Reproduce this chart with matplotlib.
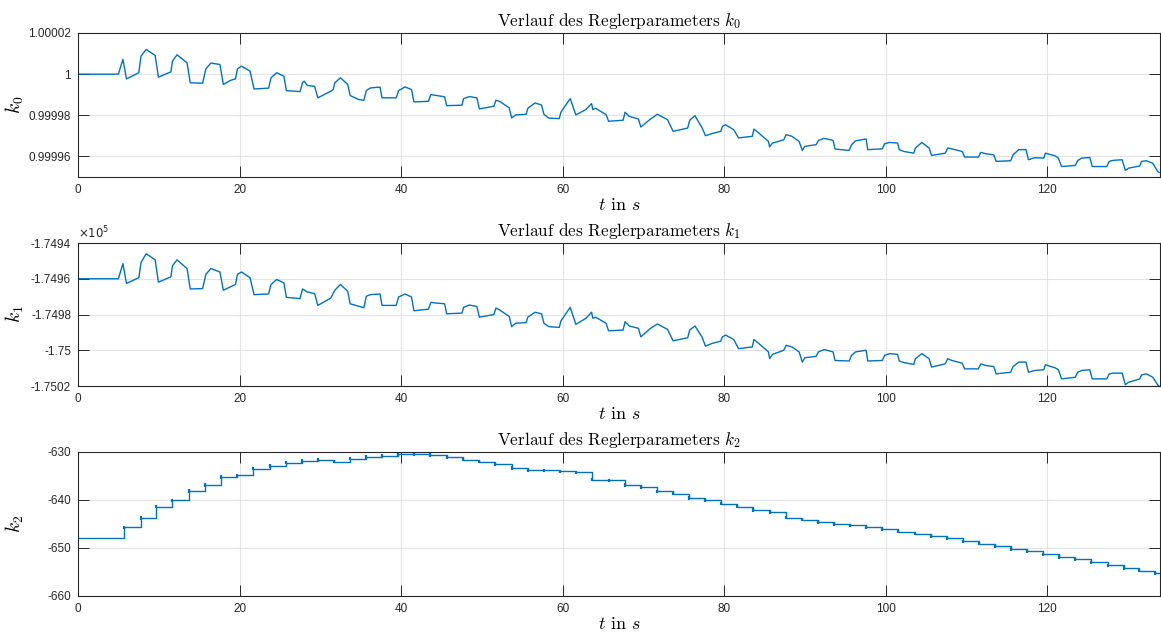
import matplotlib
matplotlib.use('Agg')
import matplotlib.pyplot as plt
from matplotlib.ticker import FuncFormatter
import numpy as np

plt.rcParams['mathtext.fontset'] = 'cm'
plt.rcParams['font.family'] = ['Liberation Sans', 'DejaVu Sans']
plt.rcParams['axes.unicode_minus'] = False

# ---- data ----
# k0: deviation from 1 in units of 1e-5
t_k0 = [0, 5.0, 5.56, 6.0, 7.53, 7.8, 8.44, 9.55, 9.96, 10.7, 11.5, 11.7, 12.26, 13.5, 13.9,
        15.43, 15.84, 16.46, 17.57, 18.0, 18.9, 19.5, 19.75, 20.25, 21.3, 21.8,
        23.6, 23.9, 24.6, 25.5, 25.8, 27.5, 27.8, 28.0, 28.4, 29.3, 29.7,
        31.3, 31.6, 31.8, 32.5, 33.4, 33.7, 34.8, 35.4, 35.7, 36.2, 37.4, 37.65,
        39.4, 39.7, 40.5, 41.3, 41.6, 43.4, 43.7, 44.4, 45.4, 45.65,
        47.55, 47.75, 48.45, 49.4, 49.7, 51.5, 51.75, 52.2, 53.4, 53.7,
        54.2, 55.5, 55.7, 56.6, 57.4, 57.7, 58.3, 59.6, 59.8, 60.95, 61.65,
        62.9, 63.6, 63.75, 64.1, 65.4, 65.7, 67.5, 67.75, 68.25, 69.4, 69.7,
        70.9, 71.75, 73.0, 73.7, 75.5, 75.75, 76.4, 77.3, 77.7,
        78.5, 79.6, 79.8, 80.2, 81.2, 81.8, 83.5, 83.7, 84.3, 85.5, 85.65,
        86.0, 87.4, 87.7, 88.4, 89.3, 89.7, 90.0, 91.4, 91.7, 92.4, 93.5, 93.75,
        95.5, 95.8, 96.3, 97.6, 97.8, 99.6, 99.9, 100.5, 101.5, 101.7,
        102.3, 103.5, 103.7, 104.5, 105.4, 105.7, 107.4, 107.7, 108.2, 109.5, 109.8,
        111.5, 111.8, 112.4, 113.4, 113.7, 115.5, 115.8, 116.5, 117.4, 117.7,
        118.5, 119.6, 119.8, 121.0, 121.4, 121.8, 123.5, 123.8, 124.3, 125.3, 125.6,
        127.4, 127.7, 128.2, 129.3, 129.7, 130.1, 131.5, 131.7, 132.3, 133.1, 133.7, 133.9]
k0_dev = [0, 0, 0.72, -0.23, 0.07, 0.88, 1.2, 0.91, -0.15, -0.02, 0.11, 0.63, 0.94, 0.55, -0.42,
          -0.44, 0.26, 0.54, 0.47, -0.5, -0.3, -0.23, 0.26, 0.39, 0.15, -0.72,
          -0.68, -0.18, 0.07, -0.1, -0.8, -0.85, -0.42, -0.34, -0.55, -0.59, -1.15,
          -0.83, -0.75, -0.42, -0.18, -0.5, -1.04, -1.24, -1.27, -0.8, -0.67, -0.63, -1.15,
          -1.15, -0.8, -0.62, -0.75, -1.35, -1.32, -0.99, -1.04, -1.1, -1.53,
          -1.51, -1.19, -1.09, -1.15, -1.69, -1.56, -1.27, -1.32, -1.64, -2.13,
          -1.98, -1.95, -1.66, -1.4, -1.5, -1.95, -2.14, -2.16, -1.85, -1.19, -1.98,
          -1.72, -1.43, -1.72, -1.66, -1.97, -2.29, -2.24, -1.85, -2.05, -2.18, -2.57,
          -2.18, -1.95, -2.21, -2.78, -2.62, -2.24, -2.02, -2.62, -2.99,
          -2.89, -2.78, -2.54, -2.46, -2.7, -3.1, -3.02, -2.67, -2.86, -3.27, -3.54,
          -3.35, -3.19, -2.94, -3.02, -3.27, -3.71, -3.51, -3.43, -3.22, -3.12, -3.22, -3.64,
          -3.71, -3.43, -3.24, -3.15, -3.67, -3.63, -3.38, -3.32, -3.35, -3.67,
          -3.76, -3.84, -3.59, -3.32, -3.59, -3.95, -3.84, -3.59, -3.63, -3.76, -4.03,
          -4.03, -3.8, -3.87, -3.92, -4.24, -4.21, -3.92, -3.67, -3.67, -4.16,
          -4.06, -4.08, -3.84, -3.97, -4.08, -4.49, -4.44, -4.2, -4.08, -4.05, -4.49,
          -4.49, -4.24, -4.19, -4.16, -4.68, -4.57, -4.46, -4.24, -4.21, -4.33, -4.73, -4.78]

t_k1 = [0, 5.0, 5.56, 6.0, 7.53, 7.8, 8.44, 9.55, 9.96, 11.5, 11.7, 12.26, 13.5, 13.9,
        15.43, 15.84, 16.46, 17.57, 18.0, 19.5, 19.75, 20.25, 21.3, 21.8,
        23.6, 23.9, 24.6, 25.5, 25.8, 27.5, 27.8, 28.4, 29.3, 29.7,
        31.3, 31.8, 32.5, 33.4, 33.7, 35.4, 35.7, 36.2, 37.4, 37.65,
        39.4, 39.7, 40.5, 41.3, 41.6, 43.4, 43.7, 44.4, 45.4, 45.65,
        47.55, 47.75, 48.45, 49.4, 49.7, 51.5, 51.75, 52.2, 53.4, 53.7,
        54.2, 55.5, 55.7, 56.6, 57.4, 57.7, 58.3, 59.6, 59.8, 60.95, 61.65,
        62.9, 63.6, 63.75, 64.1, 65.4, 65.7, 67.5, 67.75, 68.25, 69.4, 69.7,
        70.9, 71.75, 73.0, 73.7, 75.5, 75.75, 76.4, 77.3, 77.7,
        78.5, 79.6, 79.8, 80.2, 81.2, 81.8, 83.5, 83.7, 84.3, 85.5, 85.65,
        86.0, 87.4, 87.7, 88.4, 89.3, 89.7, 90.0, 91.4, 91.7, 92.4, 93.5, 93.75,
        95.5, 95.8, 96.3, 97.6, 97.8, 99.6, 99.9, 100.5, 101.5, 101.7,
        102.3, 103.5, 103.7, 104.5, 105.4, 105.7, 107.4, 107.7, 108.2, 109.5, 109.8,
        111.5, 111.8, 112.4, 113.4, 113.7, 115.5, 115.8, 116.5, 117.4, 117.7,
        118.5, 119.6, 119.8, 121.0, 121.4, 121.8, 123.5, 123.8, 124.3, 125.3, 125.6,
        127.4, 127.7, 128.2, 129.3, 129.7, 130.1, 131.5, 131.7, 132.3, 133.1, 133.7, 133.9]
k1 = [-174960.0, -174960.0, -174951.5, -174962.6, -174959.4, -174950.9, -174946.0, -174949.4,
      -174961.9, -174958.9, -174952.8, -174949.4, -174954.3, -174965.7,
      -174965.5, -174957.5, -174954.3, -174956.2, -174966.4, -174963.2, -174957.5, -174956.2,
      -174959.4, -174968.9,
      -174968.5, -174963.2, -174960.4, -174962.3, -174970.4, -174971.1, -174965.7, -174967.4,
      -174968.3, -174974.9,
      -174970.8, -174966.4, -174963.2, -174967.0, -174974.0, -174976.2, -174969.8, -174968.9,
      -174968.5, -174974.9,
      -174974.9, -174970.2, -174968.5, -174970.2, -174977.9, -174977.0, -174973.2, -174973.6,
      -174974.0, -174979.6,
      -174979.2, -174975.9, -174974.7, -174975.5, -174981.5, -174980.0, -174976.4, -174977.4,
      -174981.1, -174986.8,
      -174984.9, -174984.5, -174981.5, -174978.7, -174979.6, -174984.9, -174986.8, -174987.2,
      -174983.6, -174976.0, -174985.5,
      -174982.1, -174978.7, -174982.1, -174981.5, -174984.9, -174989.1, -174988.7, -174984.0,
      -174986.4, -174987.7, -174992.5,
      -174987.7, -174985.3, -174988.3, -174994.7, -174993.0, -174988.7, -174986.4, -174992.8,
      -174997.7,
      -174996.2, -174994.9, -174992.5, -174991.5, -174994.0, -174999.1, -174998.1, -174994.0,
      -174996.2, -175000.9, -175004.7,
      -175002.3, -175000.0, -174997.2, -174998.1, -175000.9, -175006.6, -175004.2, -175003.4,
      -175000.9, -174999.6, -175000.9, -175005.7,
      -175006.0, -175002.8, -175000.9, -175000.0, -175006.0, -175005.7, -175002.8, -175001.9,
      -175002.3, -175006.0,
      -175006.9, -175007.9, -175004.7, -175001.9, -175004.7, -175009.4, -175007.6, -175004.7,
      -175005.7, -175007.2, -175010.4,
      -175010.4, -175007.6, -175008.5, -175009.1, -175013.2, -175012.3, -175009.1, -175006.6,
      -175006.6, -175012.3,
      -175011.3, -175010.9, -175008.1, -175009.8, -175010.9, -175016.0, -175015.1, -175012.3,
      -175011.3, -175010.9, -175016.0,
      -175016.0, -175013.2, -175012.8, -175012.8, -175019.3, -175017.9, -175016.0, -175013.8,
      -175013.2, -175015.1, -175019.3, -175020.2]

# k2 is piecewise constant: switching times and level after each switch
t_k2 = [0, 5.75, 7.75, 9.7, 11.7, 13.7, 15.7, 17.7, 19.7, 21.7, 23.75, 25.75, 27.75, 29.75,
        31.7, 33.7, 35.65, 37.65, 39.65, 41.65, 43.65, 45.65, 47.7, 49.7, 51.7, 53.7, 55.7,
        57.7, 59.7, 61.7, 63.7, 65.7, 67.7, 69.7, 71.7, 73.7, 75.7, 77.65, 79.65, 81.65,
        83.65, 85.65, 87.65, 89.65, 91.65, 93.65, 95.6, 97.6, 99.6, 101.6, 103.6, 105.6,
        107.6, 109.6, 111.6, 113.6, 115.6, 117.5, 119.5, 121.5, 123.5, 125.5, 127.5, 129.5,
        131.4, 133.4, 134.0]
k2 = [-647.9, -645.7, -643.75, -641.4, -640.1, -638.1, -636.9, -635.2, -634.9, -633.5, -632.9,
      -632.2, -631.9, -631.7, -632.0, -631.4, -631.05, -630.8, -630.45, -630.5, -630.6,
      -631.05, -631.6, -632.0, -632.5, -633.35, -633.8, -633.85, -634.05, -634.25, -635.8,
      -635.9, -636.85, -637.3, -638.2, -638.7, -639.6, -640.1, -640.8, -641.4, -642.1,
      -642.6, -643.7, -644.1, -644.6, -645.0, -645.3, -645.7, -646.1, -646.6, -647.0,
      -647.5, -648.0, -648.6, -649.1, -649.6, -650.2, -650.7, -651.3, -651.9, -652.4,
      -653.0, -653.6, -654.2, -654.7, -655.3, -655.3]
# height of the short transient spike at each switch (in k2 units)
k2_blip = 0.35

x_ticks = [0, 20, 40, 60, 80, 100, 120]
k0_ticks = [0.99996, 0.99998, 1.0, 1.00002]
k1_ticks = [-175020, -175000, -174980, -174960, -174940]
k2_ticks = [-660, -650, -640, -630]

LINE = '#0072BD'
DARK = '#262626'


def style_axis(ax):
    ax.set_xlim(0, 134)
    ax.set_xticks(x_ticks)
    ax.grid(True, color='#e3e3e3', linewidth=0.8)
    ax.set_axisbelow(True)
    ax.tick_params(direction='in', top=True, right=True, length=8, width=0.7,
                   colors=DARK, labelsize=8.5, pad=5)
    for sp in ax.spines.values():
        sp.set_color(DARK)
        sp.set_linewidth(0.8)
    ax.set_xlabel(r'$t$ in $s$', family='cmr10', fontsize=13, labelpad=1)
    ax.yaxis.set_label_coords(-0.048, 0.5)


fig = plt.figure(figsize=(11.61, 6.37), dpi=100)
ax0 = fig.add_axes([0.0672, 0.7221, 0.932, 0.2261])
ax1 = fig.add_axes([0.0672, 0.3940, 0.932, 0.2245])
ax2 = fig.add_axes([0.0672, 0.0644, 0.932, 0.2261])

TITLE_FS = 12.4
YLAB_FS = 14

ax0.plot(t_k0, 1 + np.array(k0_dev) * 1e-5, color=LINE, linewidth=1.0)
style_axis(ax0)
ax0.set_ylim(0.99995, 1.00002)
ax0.set_yticks(k0_ticks)
ax0.yaxis.set_major_formatter(FuncFormatter(lambda v, p: '%.6g' % v))
ax0.set_title(r'Verlauf des Reglerparameters $k_0$', family='cmr10', fontsize=TITLE_FS, pad=5)
ax0.set_ylabel(r'$k_0$', fontsize=YLAB_FS)

ax1.plot(t_k1, k1, color=LINE, linewidth=1.0)
style_axis(ax1)
ax1.set_ylim(-175020, -174940)
ax1.set_yticks(k1_ticks)
ax1.yaxis.set_major_formatter(FuncFormatter(lambda v, p: '%.6g' % (v / 1e5)))
ax1.set_title(r'Verlauf des Reglerparameters $k_1$', family='cmr10', fontsize=TITLE_FS, pad=5)
ax1.set_ylabel(r'$k_1$', fontsize=YLAB_FS)
ax1.text(0.0, 1.015, r'$\times10^{5}$', transform=ax1.transAxes, fontsize=8.5,
         color=DARK, math_fontfamily='dejavusans', ha='left', va='bottom')

ax2.step(t_k2, k2, where='post', color=LINE, linewidth=1.0)
k2_arr = np.array(k2[1:-1])
ax2.vlines(t_k2[1:-1], k2_arr - k2_blip, k2_arr + k2_blip, color=LINE, linewidth=1.6)
style_axis(ax2)
ax2.set_ylim(-660, -630)
ax2.set_yticks(k2_ticks)
ax2.yaxis.set_major_formatter(FuncFormatter(lambda v, p: '%g' % v))
ax2.set_title(r'Verlauf des Reglerparameters $k_2$', family='cmr10', fontsize=TITLE_FS, pad=5)
ax2.set_ylabel(r'$k_2$', fontsize=YLAB_FS)

fig.savefig('out.png', dpi=100)
